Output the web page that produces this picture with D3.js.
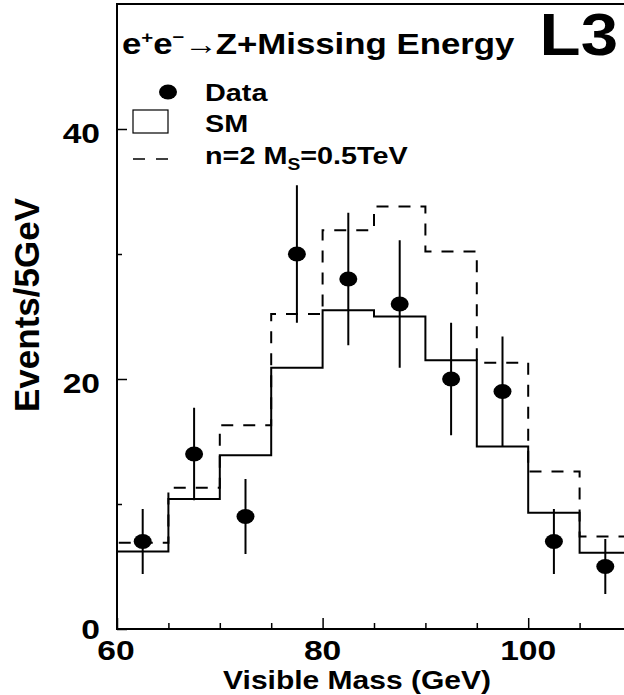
<!DOCTYPE html>
<html><head><meta charset="utf-8">
<script src="https://cdn.jsdelivr.net/npm/d3@7"></script>
<style>
body{margin:0;background:#fff}
text{font-family:"Liberation Sans",Arial,Helvetica,sans-serif;font-weight:bold;fill:#000}
</style>
</head><body>
<svg id="chart" width="624" height="695"></svg>
<script>
// ---- data ----
const binEdges = [60, 65, 70, 75, 80, 85, 90, 95, 100, 105, 110];
const smValues = [6.2, 10.4, 13.9, 20.9, 25.5, 25.0, 21.5, 14.6, 9.3, 6.1];
const signalValues = [6.9, 11.3, 16.3, 25.2, 31.9, 33.8, 30.2, 21.3, 12.6, 7.4];
const dataCenters = [62.5, 67.5, 72.5, 77.5, 82.5, 87.5, 92.5, 97.5, 102.5, 107.5];
const dataValues = [7, 14, 9, 30, 28, 26, 20, 19, 7, 5];
const dataErrors = [2.6, 3.7, 3.0, 5.5, 5.3, 5.1, 4.5, 4.4, 2.6, 2.2];
const xMajorTicks = [60, 80, 100];
const xMinorTicks = [65, 70, 75, 85, 90, 95, 105];
const yMajorTicks = [0, 20, 40];
const yMinorTicks = [10, 30];
const xTitle = "Visible Mass (GeV)";
const yTitle = "Events/5GeV";
const legendLabels = ["Data", "SM"];

const svg = d3.select("#chart");
const x = d3.scaleLinear().domain([60, 110]).range([117, 631]);
const y = d3.scaleLinear().domain([0, 50]).range([629, 4]);
const SX = 1.2; // horizontal stretch of the original lettering

function hText(str, px, py, size, anchor) {
  return svg.append("text")
    .attr("transform", `translate(${px},${py}) scale(${SX},1)`)
    .attr("text-anchor", anchor || "start")
    .attr("font-size", size)
    .text(str);
}

// ---- histograms ----
function stepPoints(vals) {
  const pts = [[binEdges[0], 0]];
  vals.forEach((v, i) => { pts.push([binEdges[i], v]); pts.push([binEdges[i + 1], v]); });
  pts.push([binEdges[binEdges.length - 1], 0]);
  return pts;
}
const line = d3.line().x(d => x(d[0])).y(d => y(d[1]));
svg.append("path").attr("d", line(stepPoints(signalValues)))
  .attr("fill", "none").attr("stroke", "#000").attr("stroke-width", 2)
  .attr("stroke-dasharray", "12,10");
svg.append("path").attr("d", line(stepPoints(smValues)))
  .attr("fill", "none").attr("stroke", "#000").attr("stroke-width", 2);

// ---- data points ----
const pts = dataCenters.map((c, i) => ({ c, v: dataValues[i], e: dataErrors[i] }));
svg.selectAll("line.err").data(pts).join("line").attr("class", "err")
  .attr("x1", d => x(d.c)).attr("x2", d => x(d.c))
  .attr("y1", d => y(d.v - d.e)).attr("y2", d => y(d.v + d.e))
  .attr("stroke", "#000").attr("stroke-width", 2);
svg.selectAll("ellipse.pt").data(pts).join("ellipse").attr("class", "pt")
  .attr("cx", d => x(d.c)).attr("cy", d => y(d.v))
  .attr("rx", 9).attr("ry", 7.5).attr("fill", "#000");

// ---- frame and ticks ----
svg.append("rect").attr("x", x(60)).attr("y", y(50))
  .attr("width", x(110) - x(60)).attr("height", y(0) - y(50))
  .attr("fill", "none").attr("stroke", "#000").attr("stroke-width", 2);
svg.append("g").attr("transform", `translate(0,${y(0)})`)
  .call(d3.axisTop(x).tickValues(xMajorTicks).tickSize(11).tickFormat(""))
  .call(g => g.select(".domain").remove())
  .call(g => g.selectAll("line").attr("stroke-width", 1.5));
svg.append("g").attr("transform", `translate(0,${y(0)})`)
  .call(d3.axisTop(x).tickValues(xMinorTicks).tickSize(6).tickFormat(""))
  .call(g => g.select(".domain").remove())
  .call(g => g.selectAll("line").attr("stroke-width", 1.5));
svg.append("g").attr("transform", `translate(${x(60)},0)`)
  .call(d3.axisRight(y).tickValues(yMajorTicks).tickSize(10).tickFormat(""))
  .call(g => g.select(".domain").remove())
  .call(g => g.selectAll("line").attr("stroke-width", 1.5));
svg.append("g").attr("transform", `translate(${x(60)},0)`)
  .call(d3.axisRight(y).tickValues(yMinorTicks).tickSize(5).tickFormat(""))
  .call(g => g.select(".domain").remove())
  .call(g => g.selectAll("line").attr("stroke-width", 1.5));

// ---- tick labels ----
yMajorTicks.forEach(t => {
  const yy = t === 0 ? y(t) + 10 : y(t) + 14;
  hText(String(t), 100, yy, 28, "end");
});
xMajorTicks.forEach(t => {
  hText(String(t), x(t) + (t === 60 ? -1 : 0), 660, 28, "middle");
});

// ---- axis titles ----
hText(xTitle, 357, 689, 25, "middle");
svg.append("text").attr("transform", `translate(39,305) rotate(-90)`)
  .attr("text-anchor", "middle").attr("font-size", 35).text(yTitle);

// ---- title & label ----
const title = svg.append("text")
  .attr("transform", `translate(122,54) scale(${SX},1)`).attr("font-size", 29);
title.append("tspan").text("e");
title.append("tspan").attr("font-size", 17).attr("dy", -11).text("+");
title.append("tspan").attr("dy", 11).text("e");
title.append("tspan").attr("font-size", 17).attr("dy", -11).text("\u2212");
title.append("tspan").attr("dy", 11).attr("font-size", 28).attr("font-weight", "normal").attr("letter-spacing", -2).text("\u2192");
title.append("tspan").text("Z+Missing Energy");

svg.append("text").attr("transform", "translate(618,55) scale(1.12,1)")
  .attr("text-anchor", "end").attr("font-size", 60).text("L3");

// ---- legend ----
svg.append("ellipse").attr("cx", 168).attr("cy", 92).attr("rx", 9).attr("ry", 7.5).attr("fill", "#000");
hText(legendLabels[0], 205, 101, 24);
svg.append("rect").attr("x", 133).attr("y", 110).attr("width", 35).attr("height", 23)
  .attr("fill", "none").attr("stroke", "#000").attr("stroke-width", 1.2);
hText(legendLabels[1], 205, 132, 24);
svg.append("line").attr("x1", 133).attr("x2", 168).attr("y1", 159).attr("y2", 159)
  .attr("stroke", "#000").attr("stroke-width", 1.5).attr("stroke-dasharray", "12,11");
const lg = svg.append("text").attr("transform", `translate(205,164) scale(${SX},1)`).attr("font-size", 24);
lg.append("tspan").text("n=2 M");
lg.append("tspan").attr("font-size", 16).attr("dy", 6).text("S");
lg.append("tspan").attr("dy", -6).text("=0.5TeV");
</script>
</body></html>
